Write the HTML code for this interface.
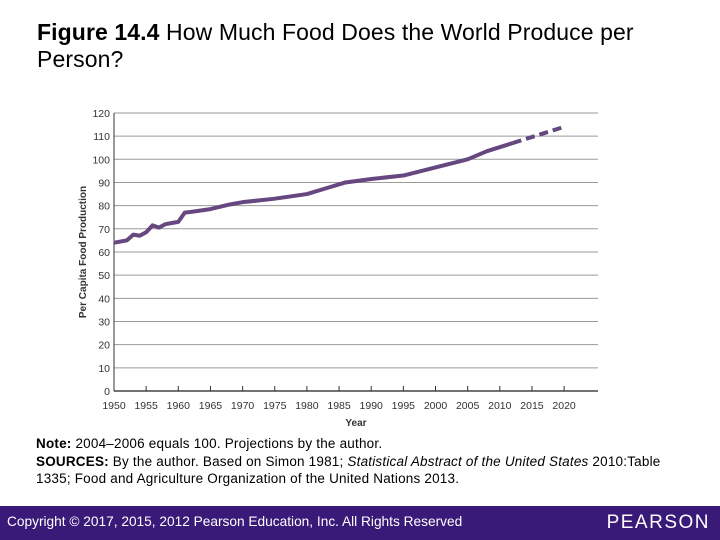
<!DOCTYPE html>
<html><head><meta charset="utf-8"><style>
body{margin:0;width:720px;height:540px;position:relative;background:#fff;font-family:"Liberation Sans",sans-serif;overflow:hidden}
.title{position:absolute;left:37px;top:19px;font-size:23px;line-height:27px;color:#000;letter-spacing:0.1px}
.note{position:absolute;left:36px;top:435px;font-size:13.5px;line-height:17.5px;color:#000;letter-spacing:0.2px;white-space:nowrap}
.footer{position:absolute;left:0;top:506px;width:720px;height:34px;background:#3a1a78;color:#fff}
.copy{position:absolute;left:7px;top:8px;font-size:13.7px}
.logo{position:absolute;right:10px;top:6px;font-size:19px;letter-spacing:1.5px}
</style></head><body>
<div class="title"><b>Figure 14.4</b> How Much Food Does the World Produce per<br>Person?</div>
<svg id="chart" width="720" height="540" style="position:absolute;left:0;top:0"></svg>
<div class="note"><b>Note:</b> 2004–2006 equals 100. Projections by the author.<br><b>SOURCES:</b> By the author. Based on Simon 1981; <i>Statistical Abstract of the United States</i> 2010:Table<br>1335; Food and Agriculture Organization of the United Nations 2013.</div>
<div class="footer"><span class="copy">Copyright © 2017, 2015, 2012 Pearson Education, Inc. All Rights Reserved</span><span class="logo">PEARSON</span></div>
<script>
const years=[1950,1951,1952,1953,1954,1955,1956,1957,1958,1959,1960,1961,1962,1965,1968,1970,1975,1980,1983,1986,1990,1995,2000,2005,2008,2012];
const values=[64,64.5,65,67.5,67,68.5,71.5,70.5,72,72.5,73,77,77.3,78.5,80.5,81.5,83,85,87.5,90,91.5,93,96.5,100,103.5,107];
const projYears=[2012,2020];
const projValues=[107,114];
const yTicks=[0,10,20,30,40,50,60,70,80,90,100,110,120];
const xTicks=[1950,1955,1960,1965,1970,1975,1980,1985,1990,1995,2000,2005,2010,2015,2020];
const NS="http://www.w3.org/2000/svg";
const svg=document.getElementById('chart');
const X=v=>114+(v-1950)*6.43, Y=v=>391-v*2.317;
function mk(t,a){const e=document.createElementNS(NS,t);for(const k in a)e.setAttribute(k,a[k]);svg.appendChild(e);return e;}
yTicks.forEach(t=>{
 if(t>0){const g=mk('line',{x1:114,x2:598,y1:Y(t),y2:Y(t),stroke:'#9a9a9a','stroke-width':1});
 
 }
 const l=mk('text',{x:110,y:Y(t)+4,'text-anchor':'end','font-size':10.5,fill:'#333'});l.textContent=t;
 
 
});
xTicks.forEach(t=>{
 const k=mk('line',{x1:X(t),x2:X(t),y1:386,y2:391,stroke:'#333'});
 
 
 const l=mk('text',{x:X(t),y:409,'text-anchor':'middle','font-size':10.5,fill:'#333'});l.textContent=t;
 
 
});
const ya=mk('line',{x1:114,x2:114,y1:113,y2:391,stroke:'#333'});


const xa=mk('line',{x1:114,x2:598,y1:391,y2:391,stroke:'#222','stroke-width':1.2});


const xt=mk('text',{x:356,y:426,'text-anchor':'middle','font-size':10,'font-weight':'bold',fill:'#333'});xt.textContent='Year';


const yt=mk('text',{x:0,y:0,'text-anchor':'middle','font-size':10,'font-weight':'bold',fill:'#333',transform:'translate(86,252) rotate(-90)'});yt.textContent='Per Capita Food Production';


const p=mk('polyline',{points:years.map((y,i)=>X(y)+','+Y(values[i])).join(' '),fill:'none',stroke:'#66477f','stroke-width':4,'stroke-linejoin':'round'});


const d=mk('polyline',{points:projYears.map((y,i)=>X(y)+','+Y(projValues[i])).join(' '),fill:'none',stroke:'#66477f','stroke-width':4,'stroke-dasharray':'9,5'});


</script>
</body></html>
